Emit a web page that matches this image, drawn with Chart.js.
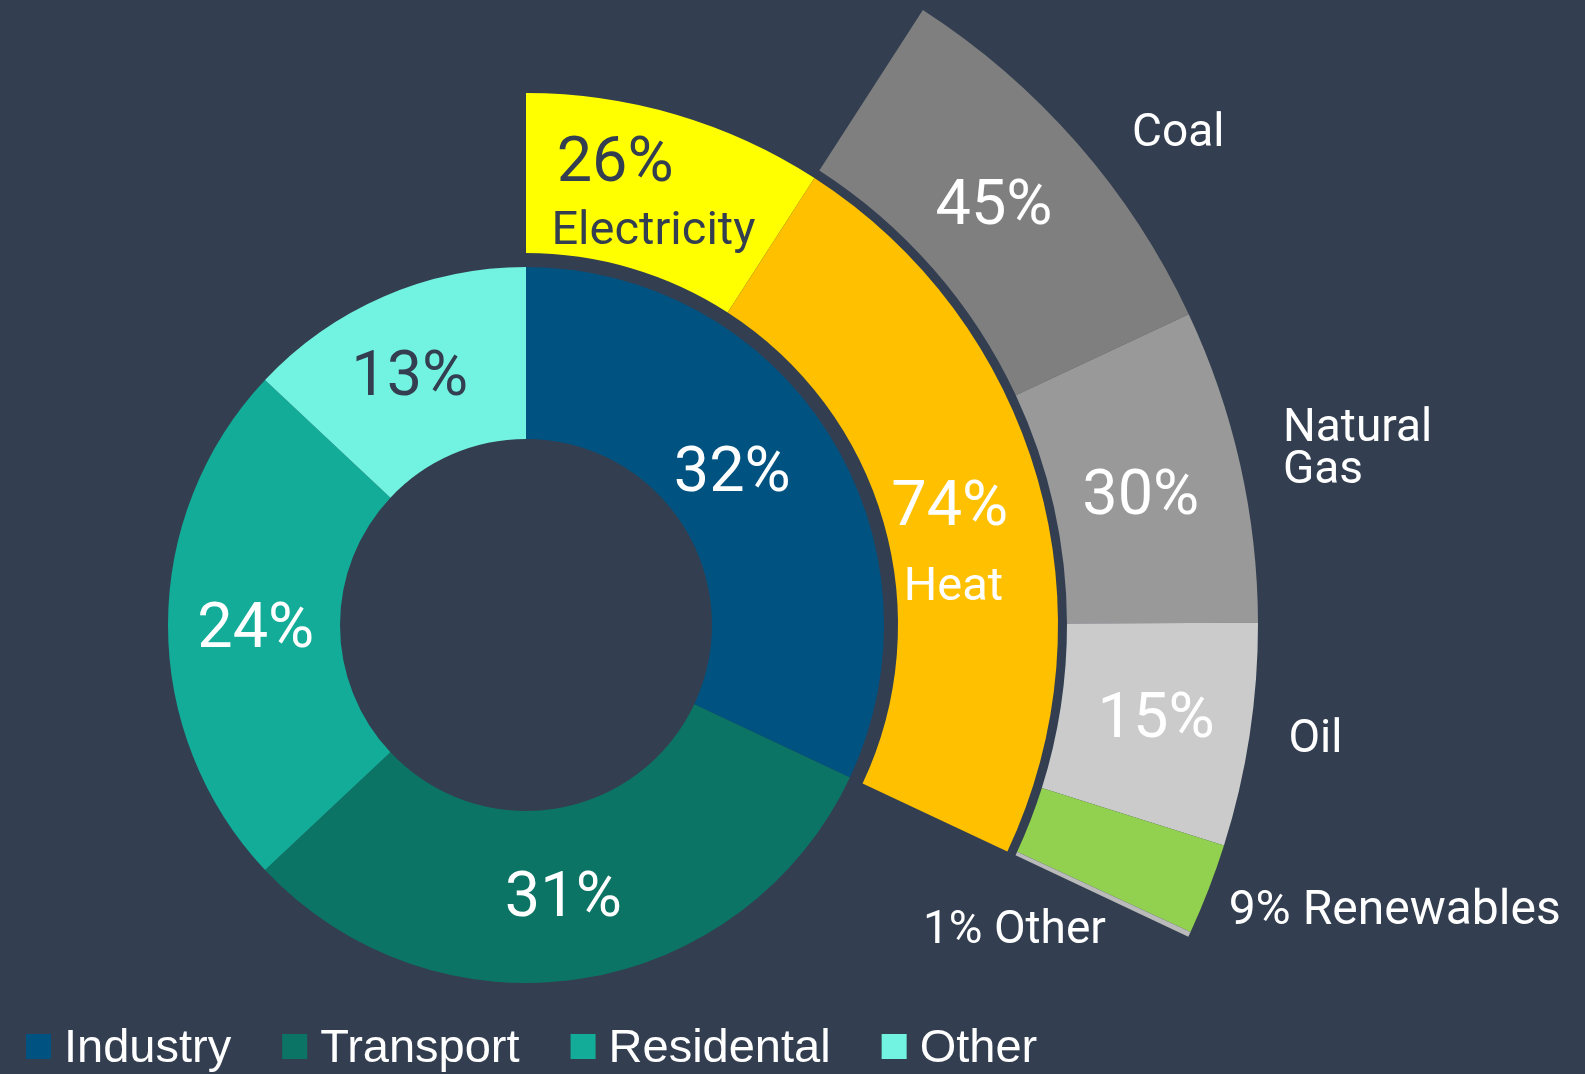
<!DOCTYPE html>
<html>
<head>
<meta charset="utf-8">
<script src="https://cdn.jsdelivr.net/npm/chart.js@4.4.1/dist/chart.umd.min.js"></script>
<style>
  html, body { margin: 0; padding: 0; background: #333f50; }
  canvas { display: block; }
</style>
</head>
<body>
<canvas id="myChart" width="1585" height="1074"></canvas>
<script>
// inner ring: final energy use by sector
const sectors = ['Industry', 'Transport', 'Residental', 'Other'];
const sectorShares = [32, 31, 24, 13];
const sectorColors = ['#005280', '#0c7464', '#12ac98', '#72f2e0'];

// middle ring: what industry uses (arc sizes as drawn, printed text separately)
const industryUses = ['Electricity', 'Heat'];
const industryUseShares = [28.5, 71.5];
const industryUseText = ['26%', '74%'];
const industryUseColors = ['#ffff00', '#ffc000'];

// outer ring: where the heat comes from
const heatSources = ['Coal', 'Natural Gas', 'Oil', 'Renewables', 'Other'];
const heatSourceShares = [38.9, 30.3, 21.5, 8.8, 0.5];
const heatSourceText = ['45%', '30%', '15%', '9%', '1%'];
const heatSourceColors = ['#7f7f7f', '#999999', '#cbcbcb', '#92d050', '#bababa'];

const sum = arr => arr.reduce((a, b) => a + b, 0);

// the middle ring covers the Industry slice, the outer ring covers Heat
const industrySweep = 360 * sectorShares[0] / sum(sectorShares);
const electricitySweep = industrySweep * industryUseShares[0] / sum(industryUseShares);
const heatSweep = industrySweep - electricitySweep;

const dark = '#333f50';
const white = '#ffffff';
const pctFont = '63px Roboto';
const nameFont = '47px Roboto';
const outFont = '46px Roboto';

// dataset index, slice index, text, angle fraction, radius fraction
const sliceLabels = [
    { ds: 4, i: 0, text: sectorShares[0] + '%', a: 0.46, r: 0.42, font: pctFont, color: white },
    { ds: 4, i: 1, text: sectorShares[1] + '%', a: 0.51, r: 0.50, font: pctFont, color: white },
    { ds: 4, i: 2, text: sectorShares[2] + '%', a: 0.50, r: 0.49, font: pctFont, color: white },
    { ds: 4, i: 3, text: sectorShares[3] + '%', a: 0.47, r: 0.53, font: pctFont, color: dark },

    { ds: 2, i: 0, text: industryUseText[0], a: 0.33, r: 0.64, font: pctFont, color: dark },
    { ds: 2, i: 0, text: industryUses[0], a: 0.54, r: 0.29, font: nameFont, color: dark },
    { ds: 2, i: 1, text: industryUseText[1], a: 0.50, r: 0.43, font: pctFont, color: white },
    { ds: 2, i: 1, text: industryUses[1], a: 0.624, r: 0.36, font: nameFont, color: white },

    { ds: 0, i: 0, text: heatSourceText[0], a: 0.47, r: 0.47, font: pctFont, color: white },
    { ds: 0, i: 1, text: heatSourceText[1], a: 0.52, r: 0.46, font: pctFont, color: white },
    { ds: 0, i: 2, text: heatSourceText[2], a: 0.47, r: 0.50, font: pctFont, color: white },

    { ds: 0, i: 0, text: heatSources[0], a: 0.62, r: 1.46, font: outFont, color: white },
    { ds: 0, i: 1, text: ['Natural', 'Gas'], a: 0.46, r: 1.246, font: outFont, color: white, align: 'left', dy: 3 },
    { ds: 0, i: 2, text: heatSources[2], a: 0.47, r: 1.20, font: outFont, color: white, align: 'left' },
    { ds: 0, i: 3, text: heatSourceText[3] + ' ' + heatSources[3], a: 0.59, r: 1.13, font: '48px Roboto', color: white, align: 'left' },
    { ds: 0, i: 4, text: heatSourceText[4] + ' ' + heatSources[4], a: 1, da: 6.4, r: 0.17, font: outFont, color: white },
];

const sliceLabelPlugin = {
    id: 'sliceLabels',
    afterDatasetsDraw(chart) {
        const ctx = chart.ctx;
        ctx.save();
        sliceLabels.forEach(l => {
            const arc = chart.getDatasetMeta(l.ds).data[l.i];
            const p = arc.getProps(['x', 'y', 'startAngle', 'endAngle', 'innerRadius', 'outerRadius'], true);
            const ang = p.startAngle + l.a * (p.endAngle - p.startAngle) + (l.da || 0) * Math.PI / 180;
            const rad = p.innerRadius + l.r * (p.outerRadius - p.innerRadius);
            const x = p.x + rad * Math.cos(ang);
            const y = p.y + rad * Math.sin(ang) + 6 + (l.dy || 0);
            ctx.font = l.font;
            ctx.fillStyle = l.color;
            ctx.textAlign = l.align || 'center';
            ctx.textBaseline = 'middle';
            const lines = Array.isArray(l.text) ? l.text : [l.text];
            const lh = 42;
            lines.forEach((t, k) => {
                ctx.fillText(t, x, y + (k - (lines.length - 1) / 2) * lh);
            });
        });
        ctx.restore();
    }
};

const legendPlugin = {
    id: 'bottomLegend',
    afterDraw(chart) {
        const ctx = chart.ctx;
        ctx.save();
        ctx.font = '47px "Liberation Sans", Arial, sans-serif';
        ctx.textAlign = 'left';
        ctx.textBaseline = 'alphabetic';
        let x = 26;
        sectors.forEach((s, i) => {
            ctx.fillStyle = sectorColors[i];
            ctx.fillRect(x, 1034, 25, 25);
            ctx.fillStyle = white;
            ctx.fillText(s, x + 38, 1062);
            x += 38 + ctx.measureText(s).width + 51;
        });
        ctx.restore();
    }
};

const data = {
    labels: sectors,
    datasets: [
        {
            label: 'Heat sources',
            data: heatSourceShares,
            backgroundColor: heatSourceColors,
            rotation: electricitySweep,
            circumference: heatSweep,
            weight: 191,
        },
        { label: 'gap', data: [1], backgroundColor: 'rgba(0,0,0,0)', weight: 9 },
        {
            label: 'Industry uses',
            data: industryUseShares,
            backgroundColor: industryUseColors,
            rotation: 0,
            circumference: industrySweep,
            weight: 160,
        },
        { label: 'gap', data: [1], backgroundColor: 'rgba(0,0,0,0)', weight: 14 },
        {
            label: 'Sectors',
            data: sectorShares,
            backgroundColor: sectorColors,
            weight: 172,
        },
    ]
};

const config = {
    type: 'doughnut',
    data: data,
    options: {
        responsive: false,
        animation: false,
        events: [],
        radius: 732,
        cutout: (186 / 732 * 100) + '%',
        clip: false,
        layout: { padding: { left: 0, right: 533, top: 176, bottom: 0 } },
        elements: { arc: { borderWidth: 0 } },
        plugins: {
            legend: { display: false },
            tooltip: { enabled: false },
        }
    },
    plugins: [sliceLabelPlugin, legendPlugin]
};

const chart = new Chart(document.getElementById('myChart'), config);
</script>
</body>
</html>
